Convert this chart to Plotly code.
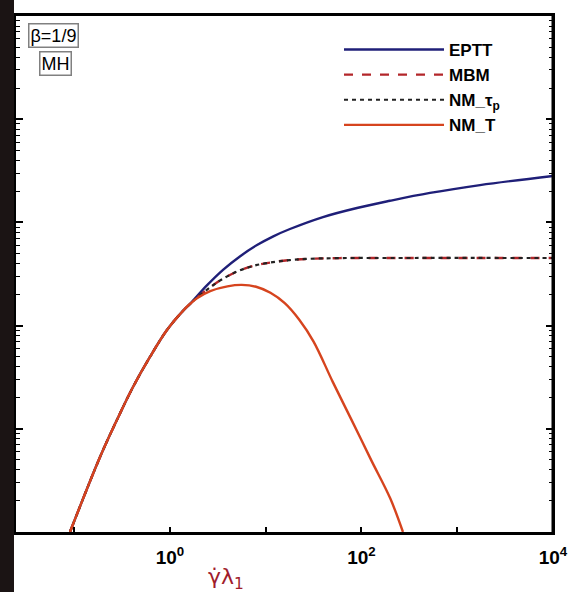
import plotly.graph_objects as go

# shared low-rate branch (all models coincide)
x_common = [0.0903, 0.186, 0.279, 0.411, 0.618, 0.930, 1.367, 1.618]
y_common = [1.00e-4, 5.33e-4, 1.216e-3, 2.54e-3, 4.97e-3, 9.06e-3, 0.0139, 0.0162]

# EPTT
x_eptt = [2.43, 3.58, 5.37, 8.11, 12.0, 17.9, 39.6, 89.7, 198.6, 519, 1729, 10000]
y_eptt = [0.0245, 0.0347, 0.0468, 0.0603, 0.0733, 0.0863, 0.1127, 0.138, 0.162, 0.193, 0.230, 0.282]

# MBM and NM_tau_p (coincide)
x_mbm = [1.914, 2.617, 3.58, 5.38, 7.94, 11.9, 17.8, 27.0, 59.6, 199.5, 10000]
y_mbm = [0.0186, 0.0234, 0.0285, 0.0343, 0.0385, 0.0412, 0.0431, 0.0443, 0.0451, 0.0452, 0.0452]

# NM_T
x_nmt = [1.914, 2.63, 3.98, 5.62, 7.94, 11.2, 15.8, 22.4, 31.6, 50.1, 79.4, 125.9, 199.5, 271]
y_nmt = [0.0184, 0.0216, 0.0240, 0.0248, 0.0238, 0.0208, 0.0165, 0.0114, 7.0e-3,
         2.85e-3, 1.20e-3, 5.0e-4, 2.12e-4, 1.0e-4]

xtick_vals = [1, 100, 10000]
xtick_text = ["10<sup>0</sup>", "10<sup>2</sup>", "10<sup>4</sup>"]
xminor_vals = [0.1, 10, 1000]
yminor_vals = [m * 10.0 ** k for k in range(-4, 1) for m in range(2, 10)]

W, H = 568, 592
L, R, T, B = 16, 15, 16, 60
pw, ph = W - L - R, H - T - B

def px(x):
    return (x - L) / pw

def py(y):
    return (H - B - y) / ph

fig = go.Figure()
fig.add_trace(go.Scatter(x=x_common + x_eptt, y=y_common + y_eptt, mode="lines",
                         name="EPTT", line=dict(color="#1f1f78", width=2.4, shape="spline")))
fig.add_trace(go.Scatter(x=x_common + x_mbm, y=y_common + y_mbm, mode="lines",
                         name="MBM", line=dict(color="#b3262a", width=2.4, dash="9px,9px", shape="spline")))
fig.add_trace(go.Scatter(x=x_common + x_mbm, y=y_common + y_mbm, mode="lines",
                         name="NM_τ<sub>p</sub>", line=dict(color="#222222", width=2.2, dash="4px,4px", shape="spline")))
fig.add_trace(go.Scatter(x=x_common + x_nmt, y=y_common + y_nmt, mode="lines",
                         name="NM_T", line=dict(color="#d6441e", width=2.4, shape="spline")))

fig.update_layout(
    width=W, height=H,
    margin=dict(l=L, r=R, t=T, b=B),
    paper_bgcolor="white", plot_bgcolor="white",
    font=dict(family="Liberation Sans, Arial, sans-serif", color="black"),
    showlegend=True,
    legend=dict(x=px(339), y=py(32), xanchor="left", yanchor="top",
                bgcolor="rgba(0,0,0,0)", itemwidth=100,
                font=dict(size=17, weight="bold"), tracegroupgap=0),
    xaxis=dict(type="log", range=[-1.608, 4.0], tickvals=xtick_vals, ticktext=xtick_text,
               ticks="inside", ticklen=5, tickwidth=2, tickcolor="black",
               minor=dict(tickvals=xminor_vals, ticks="inside", ticklen=5, tickwidth=2,
                          tickcolor="black", showgrid=False),
               showline=True, linecolor="black", linewidth=3, mirror=True,
               showgrid=False, zeroline=False, automargin=False,
               tickfont=dict(size=19, weight="bold"), ticklabelstandoff=6),
    yaxis=dict(type="log", range=[-4, 1], dtick=1, showticklabels=False,
               ticks="inside", ticklen=7, tickwidth=2, tickcolor="black",
               minor=dict(tickvals=yminor_vals, ticks="inside", ticklen=4, tickwidth=1,
                          tickcolor="black", showgrid=False),
               showline=True, linecolor="black", linewidth=1.5, mirror="ticks",
               showgrid=False, zeroline=False, automargin=False),
    shapes=[
        dict(type="rect", xref="paper", yref="paper", x0=px(0), x1=px(14), y0=py(H), y1=py(0),
             fillcolor="#1b1414", line=dict(width=0), layer="above"),
        dict(type="line", xref="paper", yref="paper", x0=1, x1=1, y0=0, y1=1,
             line=dict(color="black", width=3)),
    ],
    annotations=[
        dict(text="β=1/9", xref="paper", yref="paper", x=px(53), y=py(36),
             xanchor="center", yanchor="middle", showarrow=False,
             font=dict(size=18), bordercolor="#808080", borderwidth=1.5, borderpad=1, bgcolor="white"),
        dict(text="MH", xref="paper", yref="paper", x=px(55), y=py(63),
             xanchor="center", yanchor="middle", showarrow=False,
             font=dict(size=18), bordercolor="#808080", borderwidth=1.5, borderpad=1, bgcolor="white"),
        dict(text="γ̇λ<sub>1</sub>", xref="paper", yref="paper", x=px(226), y=py(578),
             xanchor="center", yanchor="middle",
             showarrow=False, font=dict(size=22, color="#a01c2c", family="DejaVu Sans")),
    ],
)

fig.write_html("out.html")
